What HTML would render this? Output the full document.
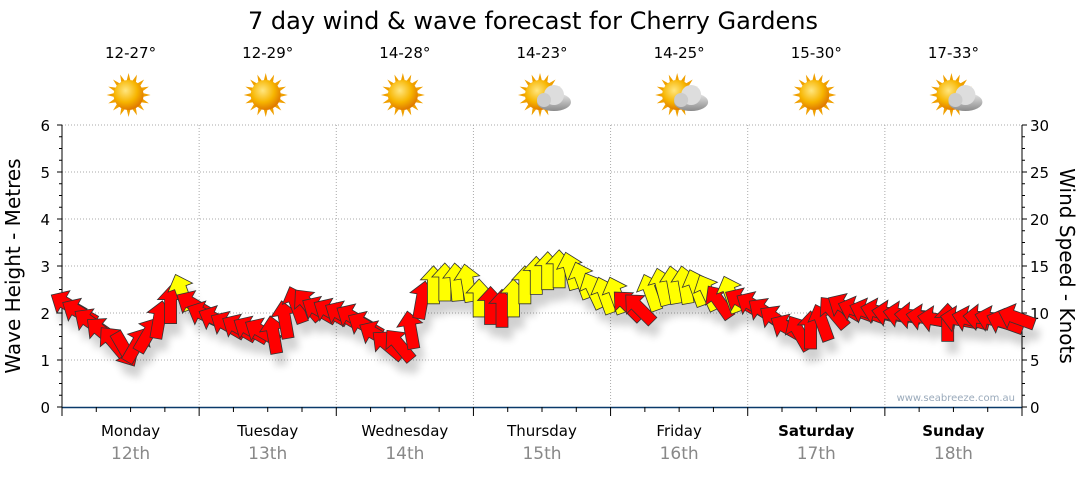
<!DOCTYPE html>
<html><head><meta charset="utf-8"><style>
body{margin:0;background:#fff;width:1080px;height:475px;overflow:hidden;font-family:"Liberation Sans",Verdana,sans-serif}
svg text{font-family:"DejaVu Sans","Liberation Sans",sans-serif}
</style></head><body>
<svg id="c" width="1080" height="475">
<defs>
<filter id="sh" x="-50%" y="-50%" width="200%" height="200%"><feGaussianBlur stdDeviation="4"/></filter>
<radialGradient id="sun" cx="40%" cy="35%" r="65%"><stop offset="0" stop-color="#ffe680"/><stop offset="0.6" stop-color="#f7b500"/><stop offset="1" stop-color="#e07a00"/></radialGradient>
<linearGradient id="cloud" x1="0" y1="0" x2="0" y2="1"><stop offset="0" stop-color="#e8e8e8"/><stop offset="1" stop-color="#8a8a8a"/></linearGradient>
</defs>
<text x="533" y="29" text-anchor="middle" font-size="24" fill="#000">7 day wind &amp; wave forecast for Cherry Gardens</text>
<g id="grid"></g><g id="axes"></g><g id="icons"></g><g id="shadows" filter="url(#sh)" opacity="0.18"></g><g id="arrows"></g>
<text x="20" y="266" transform="rotate(-90 20 266)" text-anchor="middle" font-size="20">Wave Height - Metres</text>
<text x="1060" y="266" transform="rotate(90 1060 266)" text-anchor="middle" font-size="20">Wind Speed - Knots</text>
<text x="1015" y="401" text-anchor="end" font-size="10" fill="#9aaabb">www.seabreeze.com.au</text>
</svg>
<script>
const days=["Monday","Tuesday","Wednesday","Thursday","Friday","Saturday","Sunday"];
const dates=["12th","13th","14th","15th","16th","17th","18th"];
const temps=["12-27°","12-29°","14-28°","14-23°","14-25°","15-30°","17-33°"];
const icons=["sun","sun","sun","cloud","cloud","sun","cloud"];
const waveTicks=[0,1,2,3,4,5,6];
const windTicks=[0,5,10,15,20,25,30];
const windSpeed=[
10.9,10.1,9,8,6.9,6.1,6.6,7.7,9.3,10.9,12.2,10.9,
9.8,9.3,8.7,8.4,8.2,8,7.7,9.3,10.9,10.9,10.3,10.1,
9.8,9.5,8.7,7.7,6.6,6.6,8.2,11.4,13,13.3,13.3,13.2,
11.6,10.8,10.5,11.6,13,14,14.5,14.7,14.5,13.5,12.4,11.9,
11.9,10.8,10.5,12.2,12.8,13,13,12.7,12.2,11.2,12,11.2,
10.8,10.1,9.3,8.4,7.9,8.2,9,10.1,10.6,10.3,10.1,10.1,
9.9,9.8,9.7,9.5,9.3,9,9.3,9.3,9.5,9.3,9,9.5];
const windDir=[
-60,-60,-55,-50,-40,150,30,30,10,0,-20,-60,
-65,-65,-60,-60,-60,-60,-10,-10,-20,-40,-60,-60,
-60,-60,-60,-60,-50,-40,-10,10,0,0,-5,-10,
0,0,0,0,0,0,0,0,-15,-20,-25,-20,
-20,-45,-45,-20,-15,-10,-10,-20,-25,-35,-20,-60,
-60,-55,-55,-60,-30,0,-20,-40,-60,-70,-70,-75,
-80,-80,-85,-80,-80,0,-80,-75,-85,-75,-70,-70];
const X0=62,X1=1022,Y0=407,Y1=125,DW=(X1-X0)/7;
const ns="http://www.w3.org/2000/svg";
function mk(t,a,p){const e=document.createElementNS(ns,t);for(const k in a)e.setAttribute(k,a[k]);(p||document.getElementById('c')).appendChild(e);return e;}
const yWave=v=>Y0-(Y0-Y1)*v/6, yWind=v=>Y0-(Y0-Y1)*v/30, xT=h=>X0+h/24*DW;
const grid=document.getElementById('grid'),axes=document.getElementById('axes');
waveTicks.forEach(v=>{if(v>0){const l=mk('line',{x1:X0,x2:X1,y1:yWave(v),y2:yWave(v),stroke:'#aaa','stroke-dasharray':'1 2'},grid);
}
const t=mk('text',{x:50,y:yWave(v)+6,'text-anchor':'end','font-size':15},axes);t.textContent=v;
});
windTicks.forEach(v=>{const t=mk('text',{x:1030,y:yWind(v)+6,'font-size':15},axes);t.textContent=v;
});
for(let i=0;i<=24;i++){const y=Y0-(Y0-Y1)*i/24;const L=i%4==0?5:3;
mk('line',{x1:X0-L,x2:X0,y1:y,y2:y,stroke:'#000'},axes);mk('line',{x1:X1,x2:X1+L,y1:y,y2:y,stroke:'#000'},axes);}
mk('line',{x1:X0,x2:X0,y1:Y1,y2:Y0,stroke:'#000'},axes);mk('line',{x1:X1,x2:X1,y1:Y1,y2:Y0,stroke:'#000'},axes);
mk('line',{x1:X0,x2:X1,y1:Y0+0.5,y2:Y0+0.5,stroke:'#0a3a6a','stroke-width':1.5},axes);
for(let h=0;h<=168;h+=6){const x=xT(h);mk('line',{x1:x,x2:x,y1:Y0,y2:Y0+(h%24==0?9:5),stroke:'#000'},axes);}
days.forEach((d,i)=>{const cx=X0+(i+0.5)*DW;
if(i>0){const g=mk('line',{x1:X0+i*DW,x2:X0+i*DW,y1:Y1,y2:Y0,stroke:'#aaa','stroke-dasharray':'1 2'},grid);}
const a=mk('text',{x:cx,y:436,'text-anchor':'middle','font-size':15,'font-weight':i>=5?'bold':'normal'},axes);a.textContent=d;

const b=mk('text',{x:cx,y:459,'text-anchor':'middle','font-size':17,fill:'#888'},axes);b.textContent=dates[i];

const t=mk('text',{x:cx,y:58,'text-anchor':'middle','font-size':15},axes);t.textContent=temps[i];

const ic=mk('g',{transform:`translate(${cx-2},95)`},document.getElementById('icons'));

for(let k=0;k<16;k++){mk('polygon',{points:'-2,-14 2,-14 0,-22',fill:'#f0a000',transform:`rotate(${k*22.5})`},ic);}
mk('circle',{r:15,fill:'url(#sun)'},ic);
if(icons[i]=='cloud'){mk('ellipse',{cx:14,cy:7,rx:17,ry:9,fill:'url(#cloud)'},ic);mk('circle',{cx:14,cy:0,r:10,fill:'#ddd'},ic);mk('circle',{cx:4,cy:5,r:7,fill:'#ccc'},ic);}
});
const sh=document.getElementById('shadows'),ar=document.getElementById('arrows');
const P='0,-19 13,-5 6,-5 6,19 -6,19 -6,-5 -13,-5';
windSpeed.forEach((v,i)=>{const x=xT(i*2+1),y=yWind(v);
mk('polygon',{points:P,fill:'#000',transform:`translate(${x+5},${y+12}) rotate(${windDir[i]})`},sh);
const a=mk('polygon',{points:P,fill:v>=11.5?'#ffff00':'#ff0000',stroke:'#333','stroke-width':0.8,transform:`translate(${x},${y}) rotate(${windDir[i]})`},ar);

});
</script>
</body></html>
